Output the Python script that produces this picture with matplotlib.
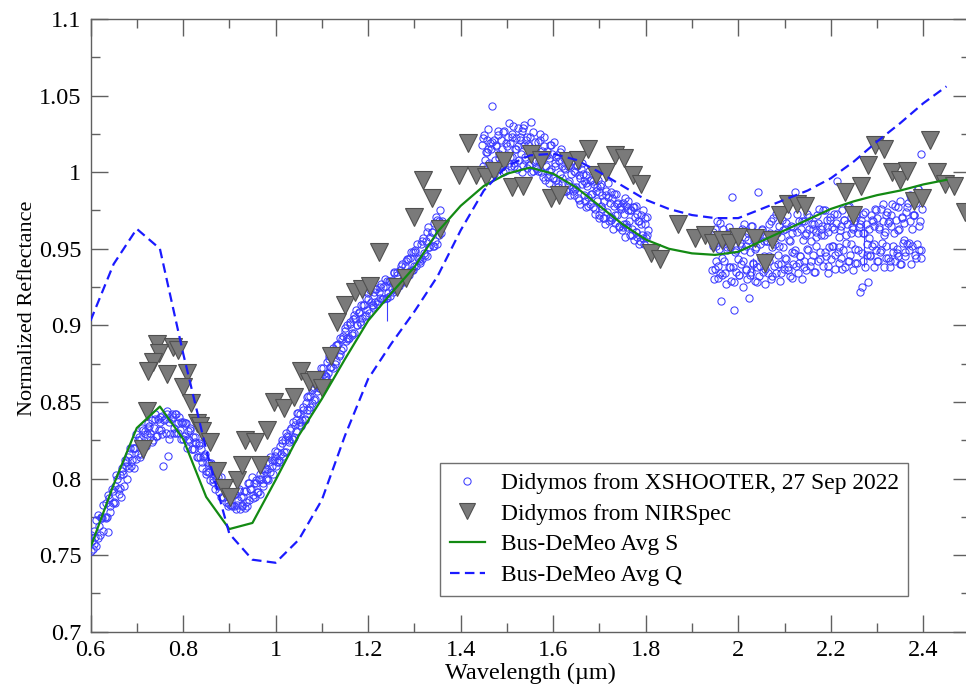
import numpy as np
import matplotlib
matplotlib.use("Agg")
import matplotlib.pyplot as plt
from matplotlib.ticker import MultipleLocator, FuncFormatter

plt.rcParams['font.family'] = ['Liberation Serif', 'DejaVu Serif']

# ---------------- XSHOOTER spectrum (reflectance in thousandths) ----------------
xs_seg1_range = (0.600, 1.360)
xs_seg1 = [
    753, 759, 754, 766, 762, 756, 776, 769, 763, 774,
    774, 766, 775, 784, 775, 765, 787, 782, 793, 784,
    785, 795, 802, 793, 790, 802, 788, 807, 803, 812,
    808, 800, 814, 807, 820, 812, 820, 807, 820, 829,
    816, 827, 814, 826, 833, 823, 831, 821, 829, 836,
    834, 827, 838, 825, 833, 842, 828, 839, 832, 837,
    832, 841, 808, 839, 830, 844, 815, 837, 829, 842,
    840, 833, 842, 830, 836, 840, 832, 826, 836, 837,
    828, 836, 820, 831, 825, 833, 819, 827, 819, 827,
    823, 814, 823, 814, 819, 807, 814, 816, 805, 811,
    804, 810, 799, 809, 800, 803, 793, 800, 801, 791,
    796, 788, 796, 788, 796, 785, 789, 782, 789, 783,
    782, 789, 782, 790, 780, 786, 792, 780, 788, 782,
    788, 781, 792, 782, 797, 786, 793, 801, 787, 797,
    788, 799, 791, 800, 790, 800, 806, 795, 805, 800,
    806, 799, 811, 804, 812, 803, 812, 818, 808, 817,
    811, 821, 816, 825, 815, 825, 817, 828, 827, 824,
    832, 826, 837, 827, 835, 831, 843, 835, 842, 834,
    838, 847, 838, 849, 845, 854, 845, 854, 849, 859,
    860, 852, 862, 857, 868, 859, 866, 860, 872, 867,
    867, 876, 869, 880, 873, 881, 872, 882, 875, 887,
    887, 880, 892, 884, 891, 885, 896, 890, 900, 891,
    892, 902, 895, 904, 895, 905, 910, 900, 908, 902,
    913, 905, 913, 906, 918, 910, 917, 908, 923, 913,
    913, 922, 915, 924, 914, 922, 918, 927, 917, 925,
    926, 918, 929, 921, 929, 919, 929, 922, 935, 925,
    923, 935, 927, 936, 928, 940, 928, 939, 933, 943,
    943, 933, 944, 936, 948, 939, 949, 939, 953, 943,
    942, 953, 943, 957, 947, 955, 945, 964, 951, 958,
    961, 952, 967, 955, 971, 953, 968, 975, 960, 968,
]
xs_seg1b_range = (0.602, 1.358)
xs_seg1b = [
    763, 757, 773, 761, 775, 783, 774, 789, 778, 792,
    784, 800, 794, 805, 795, 811, 816, 808, 820, 813,
    825, 816, 832, 822, 833, 830, 824, 839, 828, 840,
    829, 838, 842, 826, 839, 830, 842, 830, 837, 826,
    836, 826, 832, 819, 824, 814, 822, 811, 815, 803,
    804, 810, 798, 804, 795, 801, 788, 793, 784, 790,
    783, 790, 783, 793, 783, 792, 785, 797, 793, 789,
    797, 791, 803, 797, 806, 800, 814, 808, 815, 811,
    812, 823, 817, 830, 825, 833, 826, 838, 843, 837,
    845, 839, 853, 847, 858, 851, 863, 859, 872, 868,
    866, 878, 873, 885, 877, 888, 881, 893, 898, 892,
    901, 894, 907, 900, 909, 901, 913, 907, 921, 915,
    912, 924, 916, 925, 917, 930, 918, 929, 924, 934,
    933, 926, 939, 929, 942, 935, 948, 936, 948, 944,
    941, 955, 946, 961, 951, 961, 952, 969, 959, 967,
]
xs_seg2_range = (1.446, 1.804)
xs_seg2 = [
    1018, 1004, 1024, 1008, 1013, 1000, 1021, 1015, 1006, 1019,
    1015, 1043, 1004, 1021, 1008, 1017, 1002, 1024, 1012, 1006,
    1004, 1021, 1015, 1000, 1027, 1008, 1019, 1011, 1023, 1006,
    1019, 1004, 1025, 1010, 1030, 1006, 1015, 1022, 1002, 1017,
    1008, 1023, 1012, 1027, 1005, 1018, 1031, 1010, 1021, 1003,
    1018, 1005, 1023, 1000, 1014, 1026, 1007, 1020, 1003, 1012,
    1002, 1020, 1007, 1025, 1000, 1014, 997, 1017, 1011, 1004,
    1014, 997, 1009, 993, 1018, 1002, 1012, 996, 1020, 1004,
    995, 1011, 990, 1007, 999, 1015, 993, 1004, 988, 1009,
    1002, 988, 1008, 993, 1005, 985, 999, 1010, 990, 1001,
    985, 1000, 990, 1005, 983, 998, 979, 1002, 992, 999,
    994, 981, 998, 977, 991, 984, 1001, 979, 995, 986,
    977, 992, 973, 988, 981, 995, 970, 987, 991, 978,
    985, 970, 981, 966, 988, 974, 984, 968, 980, 987,
    969, 983, 963, 978, 967, 986, 972, 980, 965, 977,
    976, 962, 980, 966, 973, 958, 978, 964, 981, 968,
    959, 975, 963, 977, 956, 971, 961, 978, 958, 968,
    968, 955, 972, 959, 975, 953, 966, 957, 971, 962,
]
xs_seg2b_range = (1.448, 1.802)
xs_seg2b = [
    1022, 1002, 1013, 1028, 1005, 1020, 999, 1018, 1027, 1009,
    1005, 1026, 1001, 1017, 1032, 1010, 1023, 1004, 1015, 1029,
    1021, 1000, 1029, 1008, 1023, 1005, 1033, 1001, 1014, 1008,
    1001, 1021, 1007, 1023, 995, 1011, 1001, 1018, 996, 1006,
    1010, 992, 1013, 996, 1003, 988, 1004, 994, 1007, 988,
    989, 1004, 982, 996, 1006, 985, 993, 978, 995, 986,
    994, 976, 990, 972, 992, 976, 970, 985, 993, 971,
    970, 986, 972, 979, 964, 978, 964, 983, 966, 975,
    975, 959, 977, 961, 973, 953, 966, 957, 970, 959,
]
xs_seg3_range = (1.942, 2.398)
xs_seg3 = [
    958, 936, 952, 930, 963, 942, 968, 939, 950, 934,
    916, 954, 933, 963, 942, 957, 927, 951, 960, 938,
    951, 929, 984, 938, 957, 910, 948, 935, 961, 943,
    933, 954, 940, 963, 925, 949, 958, 937, 952, 930,
    960, 918, 948, 935, 965, 940, 956, 929, 951, 958,
    938, 987, 932, 953, 944, 963, 935, 955, 927, 958,
    955, 934, 966, 942, 960, 930, 951, 970, 939, 953,
    934, 960, 946, 965, 929, 958, 940, 969, 951, 937,
    963, 943, 972, 936, 956, 932, 965, 948, 960, 940,
    947, 987, 939, 961, 934, 968, 945, 963, 930, 956,
    968, 942, 959, 936, 973, 949, 963, 939, 955, 966,
    946, 966, 935, 961, 952, 972, 942, 976, 948, 963,
    965, 939, 959, 975, 945, 969, 934, 961, 951, 971,
    943, 964, 952, 973, 937, 967, 994, 948, 958, 941,
    962, 944, 975, 949, 969, 938, 959, 966, 942, 978,
    946, 971, 953, 964, 936, 968, 950, 973, 941, 960,
    964, 922, 969, 947, 973, 942, 960, 938, 966, 953,
    928, 963, 945, 972, 952, 968, 938, 965, 976, 949,
    970, 942, 963, 948, 976, 954, 968, 938, 961, 972,
    952, 974, 944, 968, 938, 965, 979, 948, 960, 942,
    969, 950, 977, 945, 963, 981, 940, 971, 954, 967,
    945, 974, 953, 980, 949, 968, 985, 940, 963, 972,
    972, 946, 980, 953, 989, 949, 968, 1012, 944, 976,
]
xs_seg3b_range = (1.945, 2.395)
xs_seg3b = [
    961, 937, 952, 931, 967, 944, 956, 934, 949, 964,
    938, 956, 928, 949, 960, 933, 952, 942, 966, 936,
    956, 933, 965, 941, 950, 928, 959, 939, 962, 945,
    937, 955, 945, 968, 932, 959, 973, 940, 952, 934,
    962, 944, 967, 938, 955, 931, 964, 949, 973, 941,
    945, 968, 938, 960, 950, 971, 942, 963, 935, 958,
    967, 943, 959, 975, 948, 964, 939, 969, 952, 963,
    946, 973, 951, 965, 937, 969, 954, 977, 942, 960,
    963, 941, 971, 949, 966, 925, 960, 974, 946, 957,
    946, 969, 953, 975, 942, 964, 949, 979, 959, 944,
    967, 942, 972, 952, 978, 947, 962, 940, 970, 956,
    948, 977, 954, 983, 952, 972, 944, 989, 965, 949,
]
# a few error bars visible on the XSHOOTER data
err_x = [1.241, 2.031, 2.272]
err_lo = [0.903, 0.930, 0.938]
err_hi = [0.921, 0.944, 0.967]

# ---------------- NIRSpec ----------------
nir_x = [0.743, 0.779, 0.790, 0.747, 0.735, 0.725, 0.765, 0.808, 0.800, 0.818,
         0.722, 0.830, 0.836, 0.841, 0.859, 0.713, 0.873, 0.917, 0.935, 0.956,
         0.927, 0.967, 0.982, 0.888, 0.902, 0.996, 1.018, 1.039, 1.054, 1.072,
         1.086, 1.101, 1.119, 1.133, 1.151, 1.172, 1.187, 1.205, 1.223, 1.262,
         1.281, 1.299, 1.319, 1.338, 1.356, 1.396, 1.415, 1.433, 1.455, 1.473,
         1.494, 1.512, 1.534, 1.552, 1.574, 1.595, 1.613, 1.632, 1.653, 1.675,
         1.693, 1.715, 1.733, 1.754, 1.772, 1.790, 1.812, 1.830, 1.870, 1.906,
         1.928, 1.946, 1.964, 1.982, 2.000, 2.036, 2.058, 2.073, 2.090, 2.108,
         2.126, 2.144, 2.231, 2.249, 2.266, 2.281, 2.296, 2.314, 2.332, 2.350,
         2.365, 2.379, 2.397, 2.415, 2.429, 2.447, 2.466, 2.491]
nir_y = [0.888, 0.886, 0.884, 0.882, 0.876, 0.870, 0.868, 0.869, 0.860, 0.849,
         0.844, 0.836, 0.834, 0.831, 0.824, 0.819, 0.805, 0.799, 0.825, 0.824,
         0.809, 0.809, 0.832, 0.794, 0.788, 0.850, 0.846, 0.853, 0.870, 0.863,
         0.864, 0.859, 0.880, 0.902, 0.913, 0.922, 0.924, 0.926, 0.948, 0.925,
         0.931, 0.971, 0.995, 0.983, 0.963, 0.998, 1.019, 0.998, 0.997, 1.001,
         1.007, 0.990, 0.991, 1.012, 1.008, 0.983, 0.985, 1.007, 1.008, 1.015,
         0.998, 1.000, 1.011, 1.009, 0.998, 0.992, 0.947, 0.943, 0.966, 0.957,
         0.959, 0.954, 0.956, 0.954, 0.958, 0.957, 0.941, 0.956, 0.972, 0.979,
         0.979, 0.978, 0.987, 0.972, 0.991, 1.005, 1.018, 1.015, 1.000, 0.995,
         1.001, 0.981, 0.983, 1.021, 1.000, 0.992, 0.991, 0.974]

# ---------------- Bus-DeMeo averages ----------------
bd_x = [0.60, 0.65, 0.70, 0.75, 0.80, 0.85, 0.90, 0.95, 1.00, 1.05, 1.10, 1.15,
        1.20, 1.25, 1.30, 1.35, 1.40, 1.45, 1.50, 1.55, 1.60, 1.65, 1.70, 1.75,
        1.80, 1.85, 1.90, 1.95, 2.00, 2.05, 2.10, 2.15, 2.20, 2.25, 2.30, 2.35,
        2.40, 2.45]
bd_S = [0.755, 0.796, 0.833, 0.847, 0.826, 0.788, 0.767, 0.771, 0.799, 0.828,
        0.852, 0.878, 0.903, 0.921, 0.938, 0.961, 0.978, 0.991, 0.999, 1.003,
        0.999, 0.990, 0.978, 0.966, 0.956, 0.950, 0.947, 0.946, 0.948, 0.955,
        0.962, 0.969, 0.976, 0.981, 0.985, 0.988, 0.992, 0.995]
bd_Q = [0.903, 0.940, 0.963, 0.950, 0.882, 0.819, 0.764, 0.747, 0.745, 0.760,
        0.786, 0.828, 0.865, 0.888, 0.909, 0.932, 0.962, 0.988, 1.004, 1.011,
        1.012, 1.008, 1.000, 0.991, 0.982, 0.976, 0.972, 0.970, 0.970, 0.976,
        0.982, 0.988, 0.996, 1.007, 1.020, 1.032, 1.045, 1.056]

# ---------------- figure ----------------
W, H = 966, 692
fig = plt.figure(figsize=(W / 100, H / 100), dpi=100)
L, R, T, B = 90.5, 969.6, 19.0, 631.7
ax = fig.add_axes([L / W, (H - B) / H, (R - L) / W, (B - T) / H])

segs = [(xs_seg1_range, xs_seg1), (xs_seg1b_range, xs_seg1b),
        (xs_seg2_range, xs_seg2), (xs_seg2b_range, xs_seg2b),
        (xs_seg3_range, xs_seg3), (xs_seg3b_range, xs_seg3b)]
xs_x = np.concatenate([np.linspace(r[0], r[1], len(v)) for r, v in segs])
xs_y = np.concatenate([np.array(v) / 1000.0 for r, v in segs])

circ_col = '#3d3dff'
ax.plot(xs_x, xs_y, linestyle='none', marker='o', ms=5.2, mfc='none',
        mec=circ_col, mew=0.75, zorder=3,
        label='Didymos from XSHOOTER, 27 Sep 2022')
ax.vlines(err_x, err_lo, err_hi, color=circ_col, lw=0.8, zorder=3)

ax.plot(nir_x, nir_y, linestyle='none', marker='v', ms=13.5, mfc='#7a7a7a',
        mec='#505050', mew=0.8, zorder=4, label='Didymos from NIRSpec')

ax.plot(bd_x, bd_S, color='#138a13', lw=1.6, zorder=5, label='Bus-DeMeo Avg S')
ax.plot(bd_x, bd_Q, color='#1a1aff', lw=1.6, dashes=(4.3, 2.4), zorder=5,
        label='Bus-DeMeo Avg Q')

ax.set_xlim(0.6, 2.5)
ax.set_ylim(0.7, 1.1)
ax.xaxis.set_major_locator(MultipleLocator(0.2))
ax.xaxis.set_minor_locator(MultipleLocator(0.1))
ax.yaxis.set_major_locator(MultipleLocator(0.05))
ax.yaxis.set_minor_locator(MultipleLocator(0.025))
fmt = FuncFormatter(lambda v, p: '%g' % round(v, 3))
ax.xaxis.set_major_formatter(fmt)
ax.yaxis.set_major_formatter(fmt)

spc = '#606060'
for s in ax.spines.values():
    s.set_color(spc)
    s.set_linewidth(1.0)
ax.tick_params(which='both', direction='in', top=True, right=True, color=spc, width=1.0)
ax.tick_params(which='major', length=12.5)
ax.tick_params(which='minor', length=6.5)
ax.tick_params(axis='x', which='major', labelsize=17.5, pad=6)
ax.tick_params(axis='y', which='major', labelsize=17.5, pad=6.5)

ax.set_xlabel('Wavelength (µm)', fontsize=17.5, labelpad=1)
ax.set_ylabel('Normalized Reflectance', fontsize=16)
ax.yaxis.set_label_coords(-0.0613, 0.528)

leg = ax.legend(loc='lower left', bbox_to_anchor=(0.398, 0.0588), fontsize=16.9,
                frameon=True, fancybox=False, framealpha=1, edgecolor='#707070',
                borderaxespad=0, borderpad=0.4, labelspacing=0.4,
                handlelength=1.5, handletextpad=0.68, numpoints=1)
leg.get_frame().set_linewidth(1.0)
for h in leg.legend_handles:
    try:
        if h.get_marker() == 'v':
            h.set_markersize(11)
    except Exception:
        pass

fig.savefig('out.png', dpi=100)
